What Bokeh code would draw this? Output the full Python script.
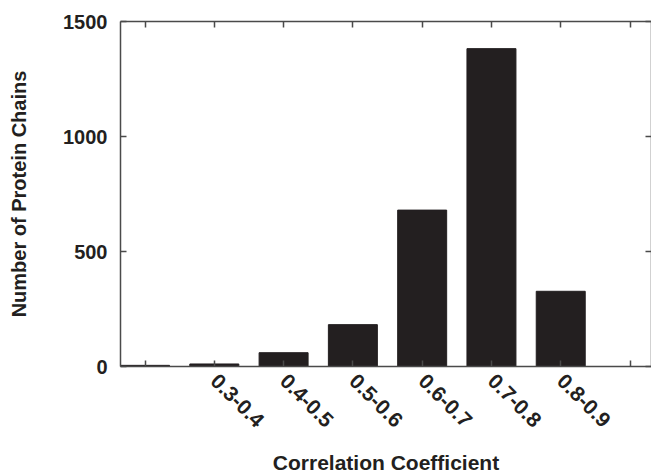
import math
from bokeh.plotting import figure
from bokeh.models import LinearAxis, FixedTicker, Range1d
from bokeh.embed import file_html
from bokeh.resources import INLINE

positions = [0, 1, 2, 3, 4, 5, 6, 7]
bin_labels = ["", "0.3-0.4", "0.4-0.5", "0.5-0.6", "0.6-0.7", "0.7-0.8", "0.8-0.9", ""]
counts = [5, 11, 60, 182, 680, 1382, 327, 0]
y_ticks = [0, 500, 1000, 1500]

FONT = "Liberation Sans"
AXC = "#4a4a4a"
TXT = "#231f20"

p = figure(width=651, height=476, output_backend="svg", toolbar_location=None,
           x_range=Range1d(-0.354, 7.31), y_range=Range1d(0, 1500),
           min_border_left=120, min_border_right=0, min_border_top=21, min_border_bottom=108)
p.outline_line_color = None
p.grid.visible = False
p.background_fill_color = "white"
p.border_fill_color = "white"

p.vbar(x=positions, top=counts, width=0.707, bottom=0,
       fill_color="#231f20", line_color="#231f20", line_width=1)

def style(ax):
    ax.axis_line_color = AXC
    ax.axis_line_width = 1.5
    ax.major_tick_line_color = AXC
    ax.major_tick_line_width = 1.5
    ax.major_tick_in = 6
    ax.major_tick_out = 0
    ax.minor_tick_line_color = None
    ax.major_label_text_font = FONT
    ax.major_label_text_font_style = "bold"
    ax.major_label_text_font_size = "20px"
    ax.major_label_text_color = TXT
    ax.axis_label_text_font = FONT
    ax.axis_label_text_font_style = "bold"
    ax.axis_label_text_font_size = "20px"
    ax.axis_label_text_color = TXT

xb = p.xaxis[0]
xb.ticker = FixedTicker(ticks=positions)
xb.major_label_overrides = {i: lab for i, lab in zip(positions, bin_labels)}
xb.major_label_orientation = -math.pi / 4
xb.axis_label = "Correlation Coefficient"
style(xb)
xb.major_label_text_font_size = "21px"
xb.major_label_standoff = 11
xb.axis_label_text_font_size = "21px"
xb.axis_label_standoff = 14

yl = p.yaxis[0]
yl.ticker = FixedTicker(ticks=y_ticks)
yl.axis_label = "Number of Protein Chains"
style(yl)
yl.major_label_standoff = 13
yl.axis_label_standoff = 30

top = LinearAxis(ticker=FixedTicker(ticks=positions))
style(top)
top.major_label_overrides = {i: "" for i in positions}
top.major_label_standoff = 0
p.add_layout(top, "above")

right = LinearAxis(ticker=FixedTicker(ticks=y_ticks))
style(right)
right.major_label_overrides = {v: "" for v in y_ticks}
right.major_label_standoff = 0
p.add_layout(right, "right")

open("out.html", "w").write(file_html(p, INLINE))
